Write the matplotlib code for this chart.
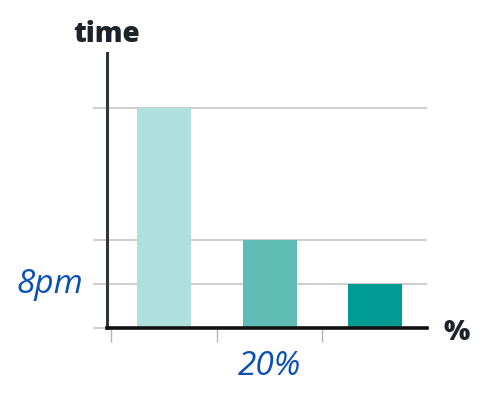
import matplotlib
matplotlib.use('Agg')
import matplotlib.pyplot as plt

# data
categories = [0, 1, 2]
values = [5, 2, 1]
bar_colors = ['#b0dfdf', '#5fbdb6', '#009b94']
y_ticks = [0, 1, 2, 5]
x_ticks = [-0.5, 0.5, 1.5]

plt.rcParams['font.family'] = ['Open Sans', 'DejaVu Sans']

W, H = 495, 402
fig = plt.figure(figsize=(W / 100, H / 100), dpi=100)
ax = fig.add_axes([107 / W, 1 - 329 / H, 320 / W, 275 / H])

ax.bar(categories, values, width=0.51, color=bar_colors, zorder=2)

ax.set_xlim(-0.54, 2.49)
ax.set_ylim(0, 6.25)

# grid lines at the bar heights, sticking out left of the axis
ax.set_yticks(y_ticks)
ax.set_yticklabels([])
ax.tick_params(axis='y', length=10, width=1.5, color='#cfcfcf')
ax.grid(axis='y', color='#cfcfcf', linewidth=1.5, zorder=0)
ax.set_axisbelow(True)

ax.set_xticks(x_ticks)
ax.set_xticklabels([])
ax.tick_params(axis='x', length=10, width=1, color='#b5b5b5')

for s in ['top', 'right']:
    ax.spines[s].set_visible(False)
ax.spines['left'].set_color('#30363b')
ax.spines['left'].set_linewidth(2.2)
ax.spines['bottom'].set_color('#111111')
ax.spines['bottom'].set_linewidth(2.6)
ax.spines['left'].set_zorder(3)
ax.spines['bottom'].set_zorder(3)

# axis titles
ax.text(0, 1.07, 'time', transform=ax.transAxes, ha='center', va='center',
        fontsize=20, fontweight='heavy', color='#1c232b')
ax.text(1.05, -0.012, '%', transform=ax.transAxes, ha='left', va='center',
        fontsize=20, fontweight='heavy', color='#1c232b')

# highlighted labels
ax.text(-1.08, values[2], '8pm', ha='center', va='center', fontsize=24,
        style='italic', color='#0b50b4', clip_on=False)
ax.text(categories[1], -0.85, '20%', ha='center', va='center', fontsize=24,
        style='italic', color='#0b50b4', clip_on=False)

fig.savefig('out.png', dpi=100)
